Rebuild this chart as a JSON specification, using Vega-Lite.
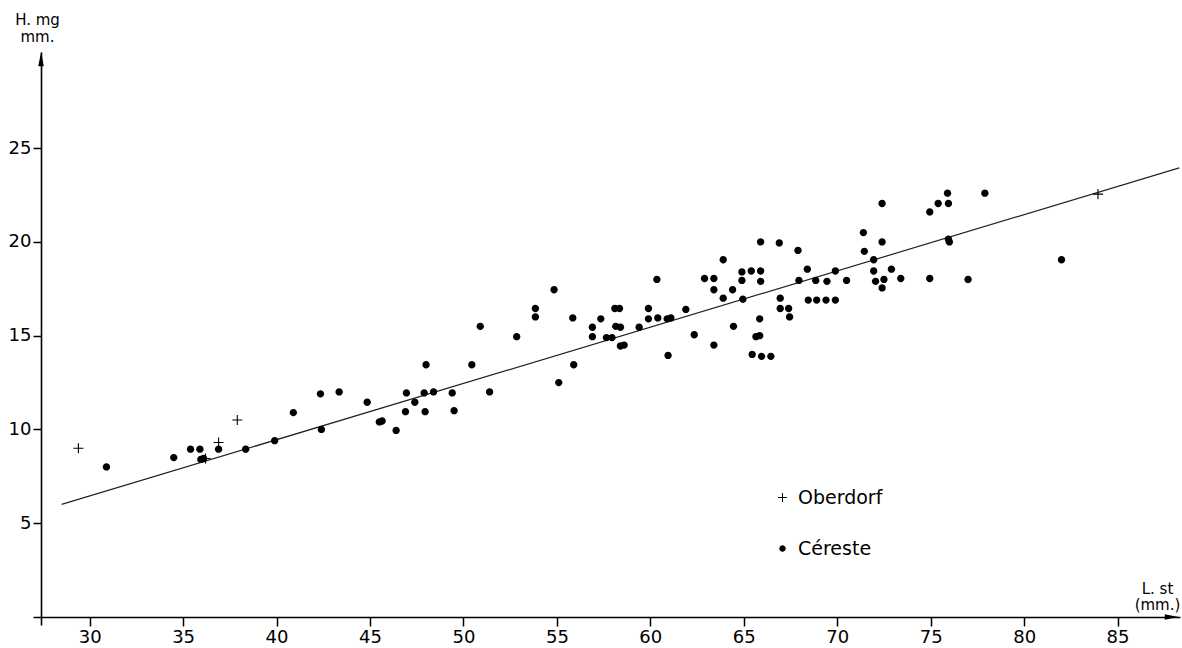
{
  "$schema": "https://vega.github.io/schema/vega-lite/v6.json",
  "width": 1147,
  "height": 573,
  "autosize": {"type": "none"},
  "padding": {"left": 33, "top": 52, "right": 2, "bottom": 23},
  "background": "white",
  "config": {
    "view": {"stroke": null},
    "font": "DejaVu Sans",
    "axis": {"grid": false, "domainColor": "black", "tickColor": "black", "labelColor": "black", "titleColor": "black", "domainWidth": 1.6, "tickWidth": 1.5, "labelFont": "DejaVu Sans", "titleFont": "DejaVu Sans", "titleFontWeight": "normal"}
  },
  "datasets": {
    "pts": [
      {"site": "Oberdorf", "L": 29.4, "H": 9.0},
      {"site": "Oberdorf", "L": 36.2, "H": 8.45},
      {"site": "Oberdorf", "L": 36.9, "H": 9.3},
      {"site": "Oberdorf", "L": 37.9, "H": 10.5},
      {"site": "Oberdorf", "L": 83.95, "H": 22.55},
      {"site": "Céreste", "L": 30.9, "H": 8.0},
      {"site": "Céreste", "L": 34.5, "H": 8.5},
      {"site": "Céreste", "L": 35.4, "H": 8.95},
      {"site": "Céreste", "L": 35.9, "H": 8.95},
      {"site": "Céreste", "L": 35.95, "H": 8.4},
      {"site": "Céreste", "L": 36.1, "H": 8.45},
      {"site": "Céreste", "L": 36.9, "H": 8.95},
      {"site": "Céreste", "L": 38.35, "H": 8.95},
      {"site": "Céreste", "L": 39.9, "H": 9.4},
      {"site": "Céreste", "L": 40.9, "H": 10.9},
      {"site": "Céreste", "L": 42.35, "H": 11.9},
      {"site": "Céreste", "L": 42.4, "H": 10.0},
      {"site": "Céreste", "L": 43.35, "H": 12.0},
      {"site": "Céreste", "L": 44.85, "H": 11.45},
      {"site": "Céreste", "L": 45.5, "H": 10.4},
      {"site": "Céreste", "L": 45.65, "H": 10.45},
      {"site": "Céreste", "L": 46.4, "H": 9.95},
      {"site": "Céreste", "L": 46.9, "H": 10.95},
      {"site": "Céreste", "L": 46.95, "H": 11.95},
      {"site": "Céreste", "L": 47.4, "H": 11.45},
      {"site": "Céreste", "L": 47.9, "H": 11.95},
      {"site": "Céreste", "L": 47.95, "H": 10.95},
      {"site": "Céreste", "L": 48.0, "H": 13.45},
      {"site": "Céreste", "L": 48.4, "H": 12.0},
      {"site": "Céreste", "L": 49.4, "H": 11.95},
      {"site": "Céreste", "L": 49.5, "H": 11.0},
      {"site": "Céreste", "L": 50.45, "H": 13.45},
      {"site": "Céreste", "L": 50.9, "H": 15.5},
      {"site": "Céreste", "L": 51.4, "H": 12.0},
      {"site": "Céreste", "L": 52.85, "H": 14.95},
      {"site": "Céreste", "L": 53.85, "H": 16.45},
      {"site": "Céreste", "L": 53.85, "H": 16.0},
      {"site": "Céreste", "L": 54.85, "H": 17.45},
      {"site": "Céreste", "L": 55.1, "H": 12.5},
      {"site": "Céreste", "L": 55.85, "H": 15.95},
      {"site": "Céreste", "L": 55.9, "H": 13.45},
      {"site": "Céreste", "L": 56.9, "H": 15.45},
      {"site": "Céreste", "L": 56.9, "H": 14.95},
      {"site": "Céreste", "L": 57.35, "H": 15.9},
      {"site": "Céreste", "L": 57.65, "H": 14.9},
      {"site": "Céreste", "L": 57.95, "H": 14.9},
      {"site": "Céreste", "L": 58.1, "H": 16.45},
      {"site": "Céreste", "L": 58.35, "H": 16.45},
      {"site": "Céreste", "L": 58.15, "H": 15.5},
      {"site": "Céreste", "L": 58.4, "H": 15.45},
      {"site": "Céreste", "L": 58.4, "H": 14.45},
      {"site": "Céreste", "L": 58.6, "H": 14.5},
      {"site": "Céreste", "L": 59.4, "H": 15.45},
      {"site": "Céreste", "L": 59.9, "H": 16.45},
      {"site": "Céreste", "L": 59.9, "H": 15.9},
      {"site": "Céreste", "L": 60.35, "H": 18.0},
      {"site": "Céreste", "L": 60.4, "H": 15.95},
      {"site": "Céreste", "L": 60.9, "H": 15.9},
      {"site": "Céreste", "L": 61.1, "H": 15.95},
      {"site": "Céreste", "L": 60.95, "H": 13.95},
      {"site": "Céreste", "L": 61.9, "H": 16.4},
      {"site": "Céreste", "L": 62.35, "H": 15.05},
      {"site": "Céreste", "L": 62.9, "H": 18.05},
      {"site": "Céreste", "L": 63.4, "H": 18.05},
      {"site": "Céreste", "L": 63.4, "H": 17.45},
      {"site": "Céreste", "L": 63.4, "H": 14.5},
      {"site": "Céreste", "L": 63.9, "H": 19.05},
      {"site": "Céreste", "L": 63.9, "H": 17.0},
      {"site": "Céreste", "L": 64.4, "H": 17.45},
      {"site": "Céreste", "L": 64.45, "H": 15.5},
      {"site": "Céreste", "L": 64.9, "H": 18.4},
      {"site": "Céreste", "L": 64.9, "H": 17.95},
      {"site": "Céreste", "L": 64.95, "H": 16.95},
      {"site": "Céreste", "L": 65.4, "H": 18.45},
      {"site": "Céreste", "L": 65.9, "H": 18.45},
      {"site": "Céreste", "L": 65.9, "H": 17.9},
      {"site": "Céreste", "L": 65.9, "H": 20.0},
      {"site": "Céreste", "L": 65.85, "H": 15.9},
      {"site": "Céreste", "L": 65.65, "H": 14.95},
      {"site": "Céreste", "L": 65.85, "H": 15.0},
      {"site": "Céreste", "L": 65.45, "H": 14.0},
      {"site": "Céreste", "L": 65.95, "H": 13.9},
      {"site": "Céreste", "L": 66.45, "H": 13.9},
      {"site": "Céreste", "L": 66.9, "H": 19.95},
      {"site": "Céreste", "L": 66.95, "H": 17.0},
      {"site": "Céreste", "L": 66.95, "H": 16.45},
      {"site": "Céreste", "L": 67.4, "H": 16.45},
      {"site": "Céreste", "L": 67.45, "H": 16.0},
      {"site": "Céreste", "L": 67.9, "H": 19.55},
      {"site": "Céreste", "L": 67.95, "H": 17.95},
      {"site": "Céreste", "L": 68.4, "H": 18.55},
      {"site": "Céreste", "L": 68.45, "H": 16.9},
      {"site": "Céreste", "L": 68.85, "H": 17.95},
      {"site": "Céreste", "L": 68.9, "H": 16.9},
      {"site": "Céreste", "L": 69.4, "H": 16.9},
      {"site": "Céreste", "L": 69.45, "H": 17.9},
      {"site": "Céreste", "L": 69.9, "H": 18.45},
      {"site": "Céreste", "L": 69.9, "H": 16.9},
      {"site": "Céreste", "L": 70.5, "H": 17.95},
      {"site": "Céreste", "L": 71.4, "H": 20.5},
      {"site": "Céreste", "L": 71.45, "H": 19.5},
      {"site": "Céreste", "L": 71.95, "H": 19.05},
      {"site": "Céreste", "L": 71.95, "H": 18.45},
      {"site": "Céreste", "L": 72.05, "H": 17.9},
      {"site": "Céreste", "L": 72.4, "H": 22.05},
      {"site": "Céreste", "L": 72.4, "H": 20.0},
      {"site": "Céreste", "L": 72.5, "H": 18.0},
      {"site": "Céreste", "L": 72.4, "H": 17.55},
      {"site": "Céreste", "L": 72.9, "H": 18.55},
      {"site": "Céreste", "L": 73.4, "H": 18.05},
      {"site": "Céreste", "L": 74.95, "H": 21.6},
      {"site": "Céreste", "L": 74.95, "H": 18.05},
      {"site": "Céreste", "L": 75.4, "H": 22.05},
      {"site": "Céreste", "L": 75.9, "H": 22.6},
      {"site": "Céreste", "L": 75.95, "H": 22.05},
      {"site": "Céreste", "L": 75.95, "H": 20.15},
      {"site": "Céreste", "L": 76.0, "H": 20.0},
      {"site": "Céreste", "L": 77.0, "H": 18.0},
      {"site": "Céreste", "L": 77.9, "H": 22.6},
      {"site": "Céreste", "L": 82.0, "H": 19.05}
    ],
    "fit": [
      {"L": 28.5, "H": 6.0},
      {"L": 88.3, "H": 23.95}
    ],
    "arrows": [
      {"dir": "up", "L": 27.4, "H": 29.75},
      {"dir": "right", "L": 87.9, "H": 0}
    ]
  },
  "encoding": {
    "x": {
      "field": "L", "type": "quantitative",
      "scale": {"domain": [26.97, 88.34], "nice": false, "zero": false},
      "axis": {
        "values": [30, 35, 40, 45, 50, 55, 60, 65, 70, 75, 80, 85],
        "offset": -8, "tickSize": 9, "labelFontSize": 18, "labelPadding": 2, "labelFlush": false,
        "title": ["L. st", "(mm.)"], "titleFontSize": 15, "titleX": 1124, "titleY": -36,
        "titleAlign": "center", "titleBaseline": "top", "titleLineHeight": 16
      }
    },
    "y": {
      "field": "H", "type": "quantitative",
      "scale": {"domain": [-0.43, 30.13], "nice": false, "zero": false},
      "axis": {
        "values": [5, 10, 15, 20, 25],
        "offset": -8, "tickSize": 8, "labelFontSize": 18, "labelPadding": 2, "labelFlush": false,
        "title": ["H. mg", "mm."], "titleFontSize": 15, "titleAngle": 0, "titleX": -4, "titleY": -40,
        "titleAlign": "center", "titleBaseline": "top", "titleLineHeight": 17
      }
    }
  },
  "layer": [
    {
      "data": {"name": "fit"},
      "mark": {"type": "line", "color": "#222", "strokeWidth": 1.2}
    },
    {
      "data": {"name": "arrows"},
      "transform": [{"filter": "datum.dir === 'up'"}],
      "mark": {"type": "point", "shape": "M0,-1L0.4,1L-0.4,1Z", "filled": true, "color": "black", "size": 196, "opacity": 1}
    },
    {
      "data": {"name": "arrows"},
      "transform": [{"filter": "datum.dir === 'right'"}],
      "mark": {"type": "point", "shape": "M1,0L-1,0.4L-1,-0.4Z", "filled": true, "color": "black", "size": 196, "opacity": 1}
    },
    {
      "data": {"name": "pts"},
      "mark": {"type": "point", "filled": true, "color": "black", "size": 150, "opacity": 1},
      "encoding": {
        "shape": {
          "field": "site", "type": "nominal",
          "scale": {"domain": ["Oberdorf", "Céreste"], "range": ["M-0.82,-0.09H-0.09V-0.82H0.09V-0.09H0.82V0.09H0.09V0.82H-0.09V0.09H-0.82Z", "M0,-0.6A0.6,0.6,0,1,1,0,0.6A0.6,0.6,0,1,1,0,-0.6Z"]},
          "legend": {
            "title": null, "orient": "none", "legendX": 740, "legendY": 436,
            "labelFontSize": 19, "labelFont": "DejaVu Sans", "labelColor": "black",
            "symbolSize": 115, "rowPadding": 31, "labelOffset": 6, "padding": 0,
            "symbolFillColor": "black", "symbolStrokeColor": "black", "symbolStrokeWidth": 0.8, "symbolOpacity": 1
          }
        }
      }
    }
  ]
}
